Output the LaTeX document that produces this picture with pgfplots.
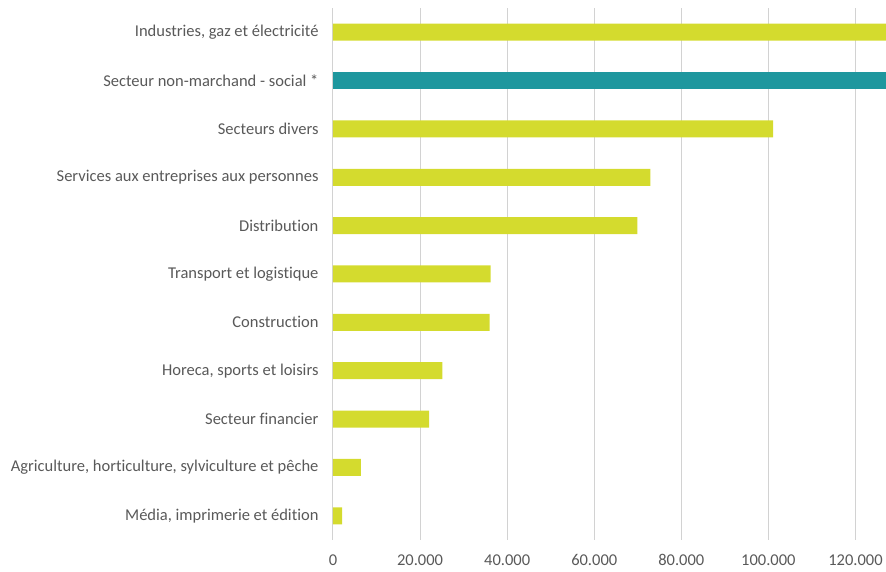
\documentclass[border=0pt]{standalone}
\usepackage{pgfplots}
\pgfplotsset{compat=1.18}
\usepackage{fontspec}
\setmainfont{Carlito}[Ligatures=NoCommon]
\definecolor{lime}{RGB}{212,219,46}
\definecolor{teal}{RGB}{30,151,158}
\definecolor{txt}{RGB}{89,89,89}
\definecolor{gridc}{RGB}{210,210,210}
\begin{document}
\begin{tikzpicture}
\begin{axis}[
    scale only axis,
    width=553pt, height=532pt,
    xbar, bar width=17pt, bar shift=0pt,
    xmin=0, xmax=127000,
    ymin=-0.5, ymax=10.5,
    scaled x ticks=false,
    xtick={0,20000,40000,60000,80000,100000,120000},
    xticklabels={0,20.000,40.000,60.000,80.000,100.000,120.000},
    ytick={0,...,10},
    yticklabels={
        {Média, imprimerie et édition},
        {Agriculture, horticulture, sylviculture et pêche},
        {Secteur financier},
        {Horeca, sports et loisirs},
        {Construction},
        {Transport et logistique},
        {Distribution},
        {Services aux entreprises aux personnes},
        {Secteurs divers},
        {Secteur non-marchand - social *},
        {Industries, gaz et électricité}},
    xmajorgrids, grid style={gridc, line width=1pt},
    axis x line*=bottom,
    x axis line style={draw=none},
    axis y line*=left,
    y axis line style={gridc, line width=1pt, -},
    major tick length=0pt,
    tick label style={font=\fontsize{16.5}{19}\selectfont, text=txt},
    xticklabel style={yshift=-11pt},
    yticklabel style={xshift=-11pt},
]
\addplot[fill=lime, draw=none] coordinates {
    (2100,0) (6400,1) (22100,2) (25100,3) (36000,4) (36200,5)
    (69900,6) (72900,7) (101100,8) (140000,10)};
\addplot[fill=teal, draw=none] coordinates {(135000,9)};
\end{axis}
\path (current axis.south west) ++(-333pt,-32pt) coordinate (bl);
\path (current axis.north east) ++(0,8pt) coordinate (tr);
\useasboundingbox (bl) rectangle (tr);
\end{tikzpicture}
\end{document}
